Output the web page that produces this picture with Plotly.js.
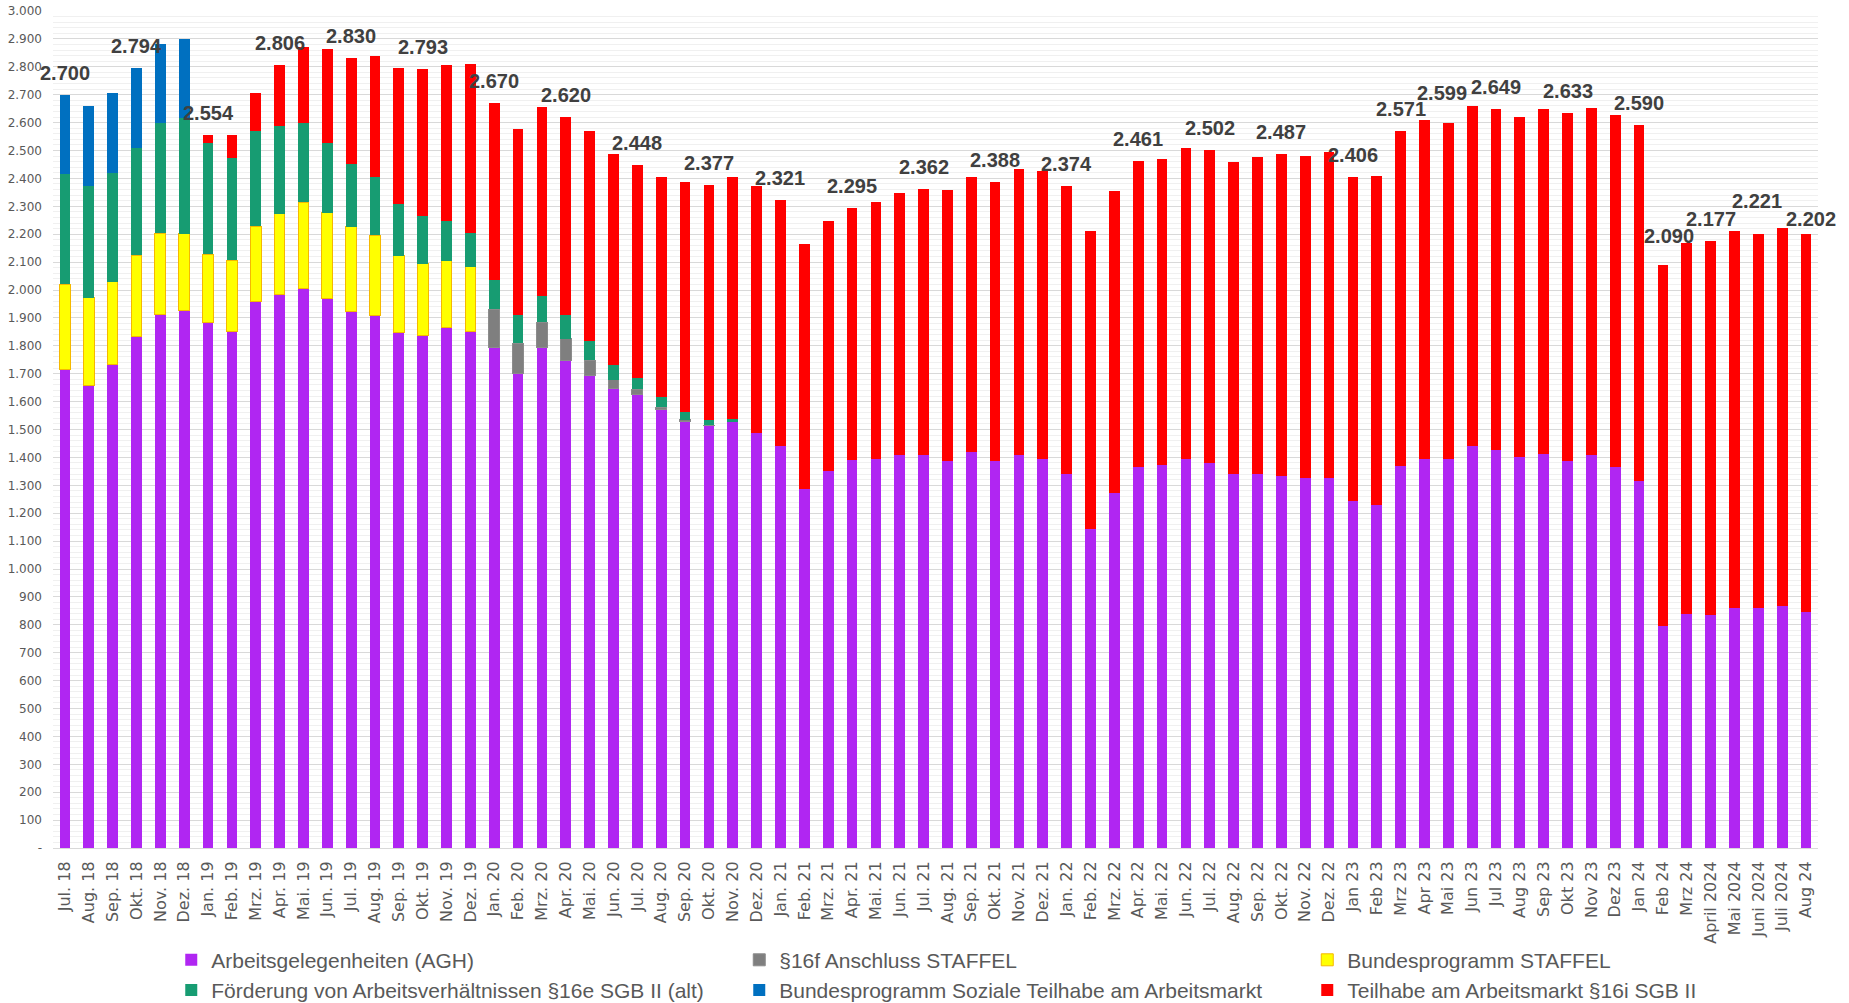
<!DOCTYPE html>
<html>
<head>
<meta charset="utf-8">
<script src="https://cdn.plot.ly/plotly-3.0.1.min.js"></script>
<style>
  html, body { margin: 0; padding: 0; background: #ffffff; }
  #chart { width: 1849px; height: 1003px; }
</style>
</head>
<body>
<div id="chart"></div>
<script>
// ---------- data ----------
const months = [
  'Jul. 18','Aug. 18','Sep. 18','Okt. 18','Nov. 18','Dez. 18',
  'Jan. 19','Feb. 19','Mrz. 19','Apr. 19','Mai. 19','Jun. 19','Jul. 19','Aug. 19','Sep. 19','Okt. 19','Nov. 19','Dez. 19',
  'Jan. 20','Feb. 20','Mrz. 20','Apr. 20','Mai. 20','Jun. 20','Jul. 20','Aug. 20','Sep. 20','Okt. 20','Nov. 20','Dez. 20',
  'Jan. 21','Feb. 21','Mrz. 21','Apr. 21','Mai. 21','Jun. 21','Jul. 21','Aug. 21','Sep. 21','Okt. 21','Nov. 21','Dez. 21',
  'Jan. 22','Feb. 22','Mrz. 22','Apr. 22','Mai. 22','Jun. 22','Jul. 22','Aug. 22','Sep. 22','Okt. 22','Nov. 22','Dez. 22',
  'Jan 23','Feb 23','Mrz 23','Apr 23','Mai 23','Jun 23','Jul 23','Aug 23','Sep 23','Okt 23','Nov 23','Dez 23',
  'Jan 24','Feb 24','Mrz 24','April 2024','Mai 2024','Juni 2024','Juli 2024','Aug 24'
];

const agh = [
  1714,1658,1732,1832,1911,1925,
  1882,1853,1958,1985,2004,1970,1923,1909,1848,1836,1867,1853,
  1793,1702,1793,1747,1692,1646,1626,1573,1529,1514,1526,1488,
  1442,1285,1352,1389,1393,1409,1407,1388,1421,1388,1407,1396,
  1340,1142,1274,1364,1372,1395,1381,1341,1341,1333,1325,1325,
  1243,1231,1370,1395,1393,1442,1427,1402,1412,1387,1409,1366,
  1317,796,840,834,861,861,866,845
];

const anschluss16f = [
  null,null,null,null,null,null,
  null,null,null,null,null,null,null,null,null,null,null,null,
  138,108,92,78,57,32,18,6,6,2,null,null,
  null,null,null,null,null,null,null,null,null,null,null,null,
  null,null,null,null,null,null,null,null,null,null,null,null,
  null,null,null,null,null,null,null,null,null,null,null,null,
  null,null,null,null,null,null,null,null
];

const staffel = [
  306,314,298,293,293,277,
  246,253,271,288,310,307,304,288,275,259,238,230,
  null,null,null,null,null,null,null,null,null,null,null,null,
  null,null,null,null,null,null,null,null,null,null,null,null,
  null,null,null,null,null,null,null,null,null,null,null,null,
  null,null,null,null,null,null,null,null,null,null,null,null,
  null,null,null,null,null,null,null,null
];

const foerderung16e = [
  397,402,389,385,394,416,
  399,368,341,316,284,251,226,208,186,171,144,121,
  106,100,93,85,70,53,40,37,26,17,13,null,
  null,null,null,null,null,null,null,null,null,null,null,null,
  null,null,null,null,null,null,null,null,null,null,null,null,
  null,null,null,null,null,null,null,null,null,null,null,null,
  null,null,null,null,null,null,null,null
];

const sozialeTeilhabe = [
  283,285,287,284,285,282,
  null,null,null,null,null,null,null,null,null,null,null,null,
  null,null,null,null,null,null,null,null,null,null,null,null,
  null,null,null,null,null,null,null,null,null,null,null,null,
  null,null,null,null,null,null,null,null,null,null,null,null,
  null,null,null,null,null,null,null,null,null,null,null,null,
  null,null,null,null,null,null,null,null
];

const teilhabe16i = [
  null,null,null,null,null,null,
  27,81,136,217,272,336,377,432,487,527,556,605,
  633,666,679,710,751,757,764,788,826,844,865,885,
  879,879,895,906,921,938,955,972,985,1000,1025,1030,
  1034,1068,1080,1097,1099,1114,1121,1119,1136,1154,1157,1171,
  1163,1179,1201,1215,1206,1216,1222,1218,1236,1246,1244,1260,
  1273,1294,1329,1343,1349,1340,1355,1357
];

const labelMonths = ['Jul. 18','Okt. 18','Jan. 19','Apr. 19','Jul. 19','Okt. 19','Jan. 20','Apr. 20',
  'Jul. 20','Okt. 20','Jan. 21','Apr. 21','Jul. 21','Okt. 21','Jan. 22','Apr. 22','Jul. 22','Okt. 22',
  'Jan 23','Mrz 23','Mai 23','Jul 23','Okt 23','Jan 24','Feb 24','April 2024','Juli 2024','Aug 24'];
const labelValues = [2700,2794,2554,2806,2830,2793,2670,2620,
  2448,2377,2321,2295,2362,2388,2374,2461,2502,2487,
  2406,2571,2599,2649,2633,2590,2090,2177,2221,2202];

const yTickValues = [0,100,200,300,400,500,600,700,800,900,1000,1100,1200,1300,1400,1500,
  1600,1700,1800,1900,2000,2100,2200,2300,2400,2500,2600,2700,2800,2900,3000];

// ---------- styling (not data) ----------
const labelNudgeX = {'Mai 23': -6, 'Juli 2024': -25, 'Feb 24': 6, 'Aug 24': 5};
const labelNudgeY = {'Mai 23': 8, 'Juli 2024': 5, 'Feb 24': 7, 'Aug 24': -7};

function deFormat(v) {
  if (v === 0) return '-';
  const s = String(v);
  return s.length > 3 ? s.slice(0, s.length - 3) + '.' + s.slice(s.length - 3) : s;
}

const seriesDefs = [
  {name: 'Arbeitsgelegenheiten (AGH)', y: agh, color: '#B026F2', line: 'rgba(0,0,0,0)'},
  {name: '§16f Anschluss STAFFEL', y: anschluss16f, color: '#7F7F7F', line: '#8c8c8c'},
  {name: 'Bundesprogramm STAFFEL', y: staffel, color: '#FFFF00', line: '#F5B800'},
  {name: 'Förderung von Arbeitsverhältnissen §16e SGB II (alt)', y: foerderung16e, color: '#179C72', line: 'rgba(0,0,0,0)'},
  {name: 'Bundesprogramm Soziale Teilhabe am Arbeitsmarkt', y: sozialeTeilhabe, color: '#0070C0', line: 'rgba(0,0,0,0)'},
  {name: 'Teilhabe am Arbeitsmarkt §16i SGB II', y: teilhabe16i, color: '#FF0000', line: 'rgba(0,0,0,0)'}
];

const traces = seriesDefs.map(s => ({
  type: 'bar',
  name: s.name,
  x: months,
  y: s.y,
  marker: {color: s.color, line: {color: s.line, width: 1}},
  hoverinfo: 'x+y+name'
}));

const totals = months.map((m, i) => seriesDefs.reduce((acc, s) => acc + (s.y[i] || 0), 0));

const annotations = labelMonths.map((m, k) => {
  const i = months.indexOf(m);
  return {
    x: m, y: totals[i], xref: 'x', yref: 'y',
    text: deFormat(labelValues[k]),
    showarrow: false,
    yanchor: 'bottom',
    yshift: 9 + (labelNudgeY[m] || 0),
    xshift: labelNudgeX[m] || 0,
    font: {family: 'Liberation Sans, Arial, sans-serif', size: 20, color: '#404040', weight: 'bold'}
  };
});

const layout = {
  width: 1849, height: 1003,
  margin: {l: 53, r: 31, t: 11, b: 155, autoexpand: false},
  paper_bgcolor: '#ffffff', plot_bgcolor: '#ffffff',
  barmode: 'stack',
  bargap: 0.55,
  showlegend: true,
  xaxis: {
    type: 'category',
    range: [-0.5, months.length - 0.5],
    autorange: false,
    tickangle: -90,
    tickfont: {family: 'DejaVu Sans, sans-serif', size: 16, color: '#595959'},
    showline: true, linecolor: '#d9d9d9', linewidth: 1,
    ticks: '', showgrid: false, zeroline: false,
    ticklabelstandoff: 6,
    automargin: false,
    fixedrange: true
  },
  yaxis: {
    range: [0, 3000],
    autorange: false,
    tickmode: 'array',
    tickvals: yTickValues,
    ticktext: yTickValues.map(deFormat),
    tickfont: {family: 'DejaVu Sans, sans-serif', size: 12, color: '#595959'},
    showgrid: true, gridcolor: '#d9d9d9', gridwidth: 1,
    minor: {dtick: 20, showgrid: true, gridcolor: '#f0f0f0', gridwidth: 1, ticks: ''},
    zeroline: false, showline: false, ticks: '',
    ticklabelstandoff: 10,
    automargin: false,
    fixedrange: true
  },
  legend: {
    orientation: 'h',
    traceorder: 'normal',
    x: 0.067, xanchor: 'left',
    y: -0.1095, yanchor: 'top',
    entrywidth: 523, entrywidthmode: 'pixels',
    font: {family: 'Liberation Sans, Arial, sans-serif', size: 21, color: '#595959'},
    bgcolor: 'rgba(0,0,0,0)',
    tracegroupgap: 0
  },
  annotations: annotations
};

Plotly.newPlot('chart', traces, layout, {displayModeBar: false, staticPlot: false});
</script>
</body>
</html>
